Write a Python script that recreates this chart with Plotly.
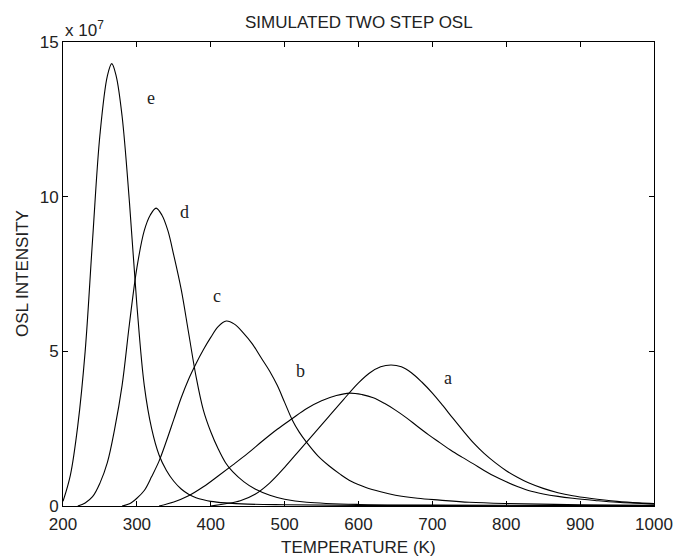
import plotly.graph_objects as go

# Curve data (intensity in units of 1e7)
e_T = [200, 210, 220, 230, 240, 250, 260, 266, 272, 280, 290, 300, 310, 320, 330, 340, 350, 360, 370, 380, 390, 400, 420, 450, 500, 600, 800, 1000]
e_I = [0.15, 1.0, 2.6, 5.0, 8.6, 12.0, 13.9, 14.3, 13.9, 12.6, 9.8, 6.5, 3.9, 2.5, 1.65, 1.15, 0.8, 0.55, 0.38, 0.27, 0.2, 0.15, 0.1, 0.06, 0.04, 0.02, 0.01, 0.005]

d_T = [220, 230, 240, 250, 260, 270, 280, 290, 300, 310, 318, 326, 334, 342, 350, 360, 370, 380, 390, 400, 410, 420, 430, 445, 460, 480, 500, 530, 600, 700, 850, 1000]
d_I = [0.0, 0.1, 0.3, 0.74, 1.4, 2.5, 3.9, 5.9, 7.7, 8.9, 9.4, 9.63, 9.4, 8.9, 8.1, 7.0, 5.6, 4.2, 3.1, 2.4, 1.85, 1.4, 1.1, 0.78, 0.55, 0.35, 0.22, 0.12, 0.05, 0.03, 0.02, 0.01]

c_T = [280, 290, 300, 310, 320, 330, 340, 350, 360, 370, 380, 390, 400, 410, 421, 432, 444, 456, 468, 480, 490, 500, 510, 520, 530, 545, 560, 575, 590, 610, 630, 650, 680, 710, 750, 800, 900, 1000]
c_I = [0.0, 0.07, 0.25, 0.5, 0.95, 1.45, 2.1, 2.8, 3.5, 4.1, 4.6, 5.05, 5.45, 5.8, 5.98, 5.88, 5.6, 5.25, 4.8, 4.35, 3.9, 3.35, 2.8, 2.38, 2.05, 1.62, 1.3, 1.03, 0.8, 0.6, 0.46, 0.35, 0.25, 0.19, 0.12, 0.08, 0.04, 0.02]

b_T = [330, 350, 370, 390, 410, 430, 450, 470, 490, 510, 530, 550, 570, 588, 605, 620, 635, 650, 665, 680, 695, 710, 725, 740, 755, 770, 785, 800, 815, 830, 850, 870, 890, 920, 950, 1000]
b_I = [0.0, 0.13, 0.33, 0.62, 0.97, 1.33, 1.7, 2.1, 2.48, 2.82, 3.15, 3.4, 3.57, 3.65, 3.6, 3.5, 3.32, 3.1, 2.85, 2.57, 2.3, 2.05, 1.8, 1.58, 1.37, 1.15, 0.95, 0.78, 0.63, 0.5, 0.39, 0.31, 0.25, 0.18, 0.12, 0.06]

a_T = [400, 420, 440, 460, 480, 500, 520, 540, 560, 580, 600, 615, 630, 644, 658, 672, 686, 700, 714, 728, 742, 756, 770, 785, 800, 815, 830, 850, 870, 890, 913, 950, 980, 1000]
a_I = [0.0, 0.07, 0.17, 0.38, 0.75, 1.25, 1.8, 2.35, 2.9, 3.45, 3.98, 4.3, 4.5, 4.56, 4.5, 4.3, 4.0, 3.65, 3.25, 2.83, 2.42, 2.03, 1.7, 1.4, 1.14, 0.93, 0.75, 0.57, 0.43, 0.33, 0.25, 0.15, 0.1, 0.08]

labels = ["a", "b", "c", "d", "e"]
label_x = [721, 521, 408, 364, 319]
label_y = [4.14, 4.36, 6.79, 9.5, 13.19]

x_ticks = [200, 300, 400, 500, 600, 700, 800, 900, 1000]
y_ticks = [0, 5, 10, 15]

fig = go.Figure()
for T, I in [(a_T, a_I), (b_T, b_I), (c_T, c_I), (d_T, d_I), (e_T, e_I)]:
    fig.add_trace(go.Scatter(x=T, y=I, mode="lines",
                             line=dict(color="black", width=1.1, shape="spline", smoothing=1.0),
                             showlegend=False, hoverinfo="skip"))

font_main = dict(family="Liberation Sans, Arial, sans-serif", size=17, color="#222")

for lab, lx, ly in zip(labels, label_x, label_y):
    fig.add_annotation(x=lx, y=ly, text=lab, showarrow=False, xref="x", yref="y",
                       font=dict(family="Liberation Serif, Times New Roman, serif", size=18, color="#222"))

fig.add_annotation(x=0.5, y=1, xref="paper", yref="paper", yshift=20, yanchor="middle",
                   text="SIMULATED TWO STEP OSL", showarrow=False, font=font_main)
fig.add_annotation(x=0.5, y=0, xref="paper", yref="paper", yshift=-41, yanchor="middle",
                   text="TEMPERATURE (K)", showarrow=False, font=font_main)
fig.add_annotation(x=0, y=0.5, xref="paper", yref="paper", xshift=-41, xanchor="center",
                   text="OSL INTENSITY", textangle=-90, showarrow=False, font=font_main)
fig.add_annotation(x=0, y=1, xref="paper", yref="paper", xanchor="left", yanchor="bottom",
                   yshift=0, text="x 10<sup>7</sup>", showarrow=False, font=font_main)

axis_common = dict(showgrid=False, zeroline=False, showline=True, linecolor="black",
                   linewidth=1, mirror="ticks", ticks="inside", ticklen=5, tickcolor="black",
                   tickfont=font_main)

fig.update_xaxes(range=[200, 1000], tickvals=x_ticks, ticktext=[str(v) for v in x_ticks],
                 ticklabelstandoff=3, **axis_common)
fig.update_yaxes(range=[0, 15], tickvals=y_ticks, ticktext=[str(v) for v in y_ticks], **axis_common)

fig.update_layout(width=685, height=557, margin=dict(l=63, r=31, t=42, b=51),
                  plot_bgcolor="white", paper_bgcolor="white")

fig.write_html("out.html")
